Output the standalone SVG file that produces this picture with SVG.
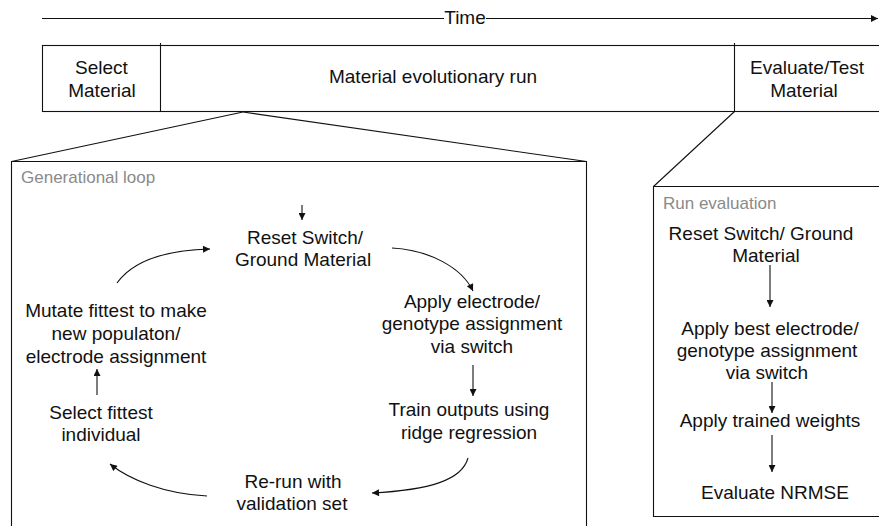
<svg xmlns="http://www.w3.org/2000/svg" width="879" height="526" viewBox="0 0 879 526">
<style>
  text { font-family: "Liberation Sans", Arial, sans-serif; font-size: 19px; fill: #111; text-anchor: middle; }
  .lbl { font-size: 17px; fill: #8a8a8a; text-anchor: start; }
  .ln { fill: none; stroke: #111; stroke-width: 1.1; }
  .ar { fill: none; stroke: #111; stroke-width: 1.1; marker-end: url(#ah); }
</style>
<defs>
  <marker id="ah" viewBox="0 0 10 10" refX="10" refY="5" markerWidth="9" markerHeight="7" markerUnits="userSpaceOnUse" orient="auto">
    <path d="M0,0 L10,5 L0,10 z" fill="#111"/>
  </marker>
</defs>
<rect width="879" height="526" fill="#fff"/>

<g id="timeline">
  <line class="ln" x1="42" y1="18.5" x2="444" y2="18.5"/>
  <line class="ar" x1="486" y1="18.5" x2="878" y2="18.5"/>
  <text x="465" y="24">Time</text>
</g>

<g id="phase-bar">
  <rect class="ln" x="42.5" y="45.5" width="850" height="66"/>
  <line class="ln" x1="160.5" y1="43" x2="160.5" y2="111.5"/>
  <line class="ln" x1="734.5" y1="43" x2="734.5" y2="111.5"/>
</g>
<g id="select-material">
  <text x="101.5" y="74">Select</text>
  <text x="102" y="97">Material</text>
</g>
<g id="evolutionary-run">
  <text x="433" y="83">Material evolutionary run</text>
</g>
<g id="evaluate-test">
  <text x="807" y="74">Evaluate/Test</text>
  <text x="804" y="97">Material</text>
</g>

<g id="generational-loop">
  <path class="ln" d="M11.5,530 V161.5 H586.5 V530"/>
  <text class="lbl" x="21" y="183">Generational loop</text>
</g>
<g id="run-evaluation">
  <path class="ln" d="M892,186.5 H653.5 V516.5 H892"/>
  <text class="lbl" x="663" y="209">Run evaluation</text>
</g>

<g id="n-reset">
  <text x="305" y="244">Reset Switch/</text>
  <text x="303" y="266">Ground Material</text>
</g>
<g id="n-apply">
  <text x="472" y="308">Apply electrode/</text>
  <text x="472" y="330">genotype assignment</text>
  <text x="472" y="353">via switch</text>
</g>
<g id="n-train">
  <text x="469" y="416">Train outputs using</text>
  <text x="469" y="439">ridge regression</text>
</g>
<g id="n-rerun">
  <text x="293" y="488">Re-run with</text>
  <text x="292" y="510">validation set</text>
</g>
<g id="n-select">
  <text x="101" y="419">Select fittest</text>
  <text x="101" y="441">individual</text>
</g>
<g id="n-mutate">
  <text x="116" y="317">Mutate fittest to make</text>
  <text x="116" y="340">new populaton/</text>
  <text x="116" y="363">electrode assignment</text>
</g>

<g id="e-reset">
  <text x="761" y="240">Reset Switch/ Ground</text>
  <text x="766" y="262">Material</text>
</g>
<g id="e-apply">
  <text x="770" y="335">Apply best electrode/</text>
  <text x="767" y="357">genotype assignment</text>
  <text x="767" y="379">via switch</text>
</g>
<g id="e-weights">
  <text x="770" y="427">Apply trained weights</text>
</g>
<g id="e-nrmse">
  <text x="775" y="499">Evaluate NRMSE</text>
</g>

<g id="connectors">
  <line class="ln" x1="243" y1="112" x2="11.5" y2="161.5"/>
  <line class="ln" x1="243" y1="112" x2="586.5" y2="161.5"/>
  <line class="ln" x1="734.5" y1="111.5" x2="653.5" y2="186.5"/>

  <line class="ar" x1="302" y1="205" x2="302" y2="220"/>
  <path class="ar" d="M392,248 C430,250 462,268 473,291"/>
  <line class="ar" x1="473" y1="365" x2="473" y2="396"/>
  <path class="ar" d="M468,458 C462,480 430,490 372,493"/>
  <path class="ar" d="M207,496 C165,494 130,480 110,464"/>
  <line class="ar" x1="97" y1="395" x2="97" y2="369"/>
  <path class="ar" d="M117,283 C135,258 170,250 210,249"/>

  <line class="ar" x1="770" y1="265" x2="770" y2="307"/>
  <line class="ar" x1="772" y1="382" x2="772" y2="413"/>
  <line class="ar" x1="772" y1="435" x2="772" y2="472"/>
</g>
</svg>
